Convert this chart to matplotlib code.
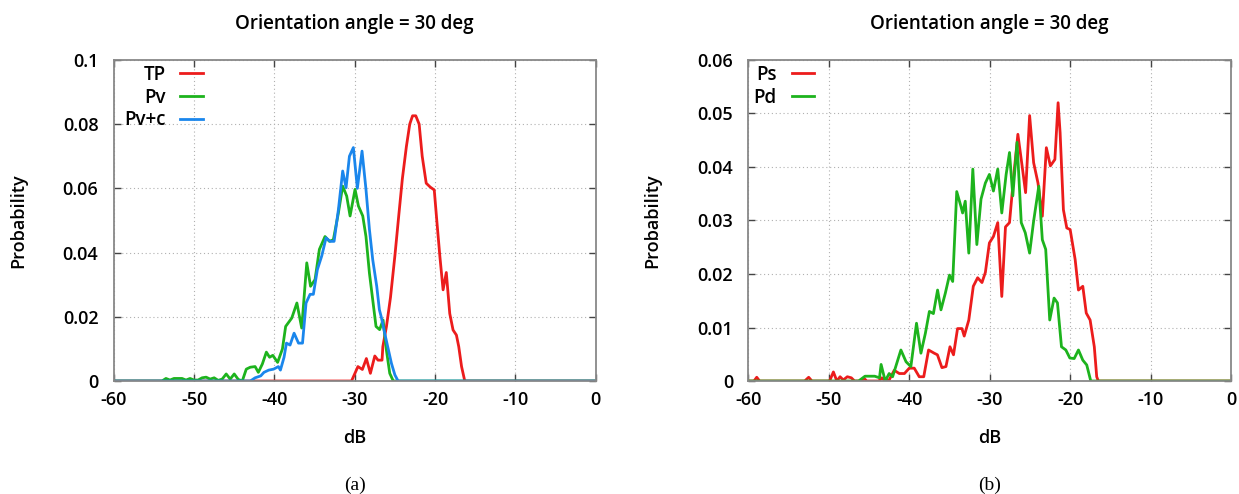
import matplotlib
matplotlib.use("Agg")
import matplotlib.pyplot as plt

plt.rcParams['font.family'] = ['Open Sans', 'DejaVu Sans']
plt.rcParams['font.weight'] = 'semibold'
plt.rcParams['axes.titleweight'] = 'semibold'
plt.rcParams['axes.labelweight'] = 'semibold'
plt.rcParams['axes.unicode_minus'] = False

# panel (a): total power, volume, volume+canopy
tp_db = [-60, -30.4, -29.6, -29.05, -28.55, -28.05, -27.5, -27.1, -26.6, -26.5, -26.05, -25.55, -25.0,
         -24.5, -24.07, -23.57, -23.15, -22.8, -22.4, -21.98, -21.6, -21.1, -20.6, -20.1, -19.75, -19.4,
         -19.0, -18.6, -18.17, -17.76, -17.34, -17.05, -16.7, -16.3, 0]
tp_p = [0, 0, 0.0045, 0.0036, 0.007, 0.0024, 0.0078, 0.0065, 0.0065, 0.0107, 0.017, 0.026, 0.039,
        0.052, 0.063, 0.073, 0.080, 0.0826, 0.0826, 0.080, 0.070, 0.0616, 0.0604, 0.0595, 0.049, 0.0388,
        0.0284, 0.0338, 0.021, 0.0159, 0.0143, 0.0107, 0.0045, 0, 0]

pv_db = [-60, -54.0, -53.5, -53.0, -52.5, -52.0, -51.5, -51.0, -50.5, -50.0, -49.5, -49.0, -48.5, -48.0,
         -47.5, -47.0, -46.5, -46.0, -45.5, -45.0, -44.5, -44.0, -43.5, -43.0, -42.4, -42.0, -41.5, -41.0,
         -40.6, -40.2, -39.6, -39.0, -38.6, -37.84, -37.2, -36.6, -35.97, -35.5, -34.94, -34.4, -33.7,
         -33.15, -32.66, -32.03, -31.5, -31.0, -30.58, -29.96, -29.54, -29.0, -28.6, -28.17, -27.76,
         -27.35, -26.9, -26.47, -26.06, -25.64, -25.2, 0]
pv_p = [0, 0, 0.0008, 0.0003, 0.0008, 0.0008, 0.0008, 0.0003, 0.0008, 0.0003, 0.0003, 0.001, 0.0012,
        0.0006, 0.001, 0.0002, 0.0006, 0.0022, 0.0006, 0.0022, 0.0005, 0, 0.0037, 0.0043, 0.0045, 0.0027,
        0.0053, 0.009, 0.0074, 0.008, 0.0058, 0.010, 0.017, 0.0196, 0.0243, 0.0165, 0.0368, 0.0295,
        0.0316, 0.041, 0.045, 0.0435, 0.044, 0.0524, 0.0607, 0.0576, 0.0514, 0.0597, 0.0545, 0.0514,
        0.045, 0.0336, 0.0253, 0.017, 0.016, 0.019, 0.0097, 0.0024, 0, 0]

pvc_db = [-60, -43.0, -42.4, -41.7, -41.3, -40.7, -40.1, -39.5, -39.25, -38.8, -38.5, -38.05, -37.55,
          -37.0, -36.5, -36.06, -35.56, -35.15, -34.65, -34.1, -33.57, -33.07, -32.57, -32.03, -31.5,
          -31.08, -30.66, -30.17, -29.67, -29.09, -28.6, -28.17, -27.76, -27.26, -26.93, -26.7, -26.27,
          -25.85, -25.43, -25.0, -24.6, 0]
pvc_p = [0, 0, 0.001, 0.0016, 0.0027, 0.0034, 0.0037, 0.0045, 0.0034, 0.0074, 0.0118, 0.0112, 0.0149,
         0.0118, 0.0118, 0.0243, 0.027, 0.027, 0.0347, 0.039, 0.0446, 0.0435, 0.0435, 0.0534, 0.0654,
         0.0602, 0.070, 0.0727, 0.060, 0.0716, 0.0597, 0.0472, 0.0378, 0.0295, 0.0222, 0.020, 0.0149,
         0.0102, 0.0055, 0.0019, 0, 0]

# panel (b): surface and double-bounce
ps_db = [-60, -59.3, -58.96, -58.6, -53.0, -52.5, -52.1, -49.9, -49.43, -49.0, -48.6, -48.2, -47.7, -47.2,
         -46.8, -45.9, -45.6, -45.3, -43.8, -43.4, -43.0, -42.5, -41.87, -41.24, -40.6, -40.0, -39.38,
         -38.76, -38.2, -37.6, -36.9, -36.5, -35.94, -35.44, -34.94, -34.5, -34.0, -33.45, -33.17, -32.6,
         -32.04, -31.5, -30.96, -30.54, -30.04, -29.54, -29.0, -28.5, -28.04, -27.54, -27.04, -26.5, -26.0,
         -25.54, -25.04, -24.54, -24.0, -23.46, -22.96, -22.46, -21.9, -21.5, -21.25, -20.84, -20.42,
         -20.0, -19.38, -18.97, -18.43, -18.0, -17.52, -17.0, -16.7, -16.5, 0]
ps_p = [0, 0, 0.0007, 0, 0, 0.0007, 0, 0, 0.0017, 0, 0.0008, 0.0002, 0.0008, 0.0006, 0, 0, 0.0005, 0, 0,
        0.0006, 0, 0.0002, 0.002, 0.0014, 0.0014, 0.0024, 0.0024, 0.0008, 0.0008, 0.0058, 0.0052, 0.0049,
        0.0025, 0.0027, 0.0064, 0.0049, 0.0098, 0.0098, 0.0084, 0.0114, 0.0177, 0.0193, 0.0184, 0.0203,
        0.0258, 0.027, 0.0296, 0.0158, 0.0288, 0.0296, 0.038, 0.0461, 0.0405, 0.0352, 0.0496, 0.0408,
        0.037, 0.0308, 0.0436, 0.0402, 0.0414, 0.052, 0.0464, 0.032, 0.0286, 0.0283, 0.0227, 0.017,
        0.0177, 0.0127, 0.0114, 0.0064, 0.0008, 0, 0]

pd_db = [-60, -46.3, -45.5, -44.97, -44.3, -43.7, -43.5, -42.99, -42.5, -42.07, -41.04, -40.4, -39.8,
         -39.1, -38.55, -38.0, -37.5, -37.0, -36.48, -36.06, -35.52, -35.0, -34.6, -34.1, -33.57, -33.37,
         -33.04, -32.6, -32.1, -31.6, -31.08, -30.54, -30.04, -29.54, -29.0, -28.5, -27.96, -27.54, -27.13,
         -26.6, -26.08, -25.58, -25.04, -24.54, -23.9, -23.46, -23.04, -22.54, -22.0, -21.58, -21.08,
         -20.54, -20.04, -19.5, -18.97, -18.43, -17.94, -17.44, 0]
pd_p = [0, 0, 0.0009, 0.0009, 0.0009, 0.0006, 0.0031, 0, 0.0014, 0.0008, 0.0058, 0.0036, 0.0027, 0.0108,
        0.0052, 0.0089, 0.013, 0.0126, 0.017, 0.0133, 0.0164, 0.0198, 0.0186, 0.0354, 0.0326, 0.0314,
        0.0336, 0.0239, 0.0396, 0.0255, 0.034, 0.037, 0.0386, 0.0355, 0.0396, 0.0314, 0.0386, 0.0427,
        0.0346, 0.0446, 0.0296, 0.0277, 0.0239, 0.0299, 0.0364, 0.0264, 0.0246, 0.0114, 0.0155, 0.0146,
        0.0064, 0.0058, 0.0043, 0.0042, 0.0058, 0.0039, 0.003, 0, 0]

x_ticks = [-60, -50, -40, -30, -20, -10, 0]
x_labels = ['-60', '-50', '-40', '-30', '-20', '-10', '0']
ya_ticks = [0, 0.02, 0.04, 0.06, 0.08, 0.1]
ya_labels = ['0', '0.02', '0.04', '0.06', '0.08', '0.1']
yb_ticks = [0, 0.01, 0.02, 0.03, 0.04, 0.05, 0.06]
yb_labels = ['0', '0.01', '0.02', '0.03', '0.04', '0.05', '0.06']

RED = '#ec1c1c'
GREEN = '#1db31d'
BLUE = '#1a86ec'
LW = 2.0

fig = plt.figure(figsize=(12.39, 4.94), dpi=100)
ax1 = fig.add_axes([0.0918, 0.2287, 0.389, 0.650])
ax2 = fig.add_axes([0.604, 0.2287, 0.3896, 0.650])


def style_axes(ax, yticks, ylabels, ymax):
    ax.set_xlim(-60, 0)
    ax.set_ylim(0, ymax)
    ax.set_xticks(x_ticks)
    ax.set_xticklabels(x_labels)
    ax.set_yticks(yticks)
    ax.set_yticklabels(ylabels)
    ax.tick_params(direction='in', length=5, width=1, color='#444444', labelsize=13,
                   top=True, right=True)
    ax.tick_params(axis='y', pad=11)
    ax.tick_params(axis='x', pad=7)
    ax.grid(True, linestyle=(0, (1, 2.5)), color='#b0b0b0', linewidth=0.8)
    for s in ax.spines.values():
        s.set_color('#888888')
        s.set_linewidth(1.3)
    ax.set_title('Orientation angle = 30 deg', fontsize=13.5, pad=22)
    ax.set_xlabel('dB', fontsize=13)
    ax.set_ylabel('Probability', fontsize=13)
    ax.xaxis.set_label_coords(0.5, -0.15)
    ax.yaxis.set_label_coords(-0.18, 0.5)


ax1.plot(tp_db, tp_p, color=RED, lw=LW, label='TP')
ax1.plot(pv_db, pv_p, color=GREEN, lw=LW, label='Pv')
ax1.plot(pvc_db, pvc_p, color=BLUE, lw=LW, label='Pv+c')
style_axes(ax1, ya_ticks, ya_labels, 0.1)
ax1.legend(loc='upper right', bbox_to_anchor=(0.185, 0.985), markerfirst=False, frameon=False,
           fontsize=13.5, handlelength=1.2, handletextpad=0.8, labelspacing=0.15, borderaxespad=0,
           borderpad=0)

ax2.plot(ps_db, ps_p, color=RED, lw=LW, label='Ps')
ax2.plot(pd_db, pd_p, color=GREEN, lw=LW, label='Pd')
style_axes(ax2, yb_ticks, yb_labels, 0.06)
ax2.legend(loc='upper right', bbox_to_anchor=(0.136, 0.985), markerfirst=False, frameon=False,
           fontsize=13.5, handlelength=1.2, handletextpad=0.8, labelspacing=0.15, borderaxespad=0,
           borderpad=0)

fig.text(355 / 1239, 1 - 485 / 494, '(a)', family='Liberation Serif', fontweight='normal',
         fontsize=14, ha='center', va='center')
fig.text(990 / 1239, 1 - 485 / 494, '(b)', family='Liberation Serif', fontweight='normal',
         fontsize=14, ha='center', va='center')

fig.savefig('out.png', dpi=100)
